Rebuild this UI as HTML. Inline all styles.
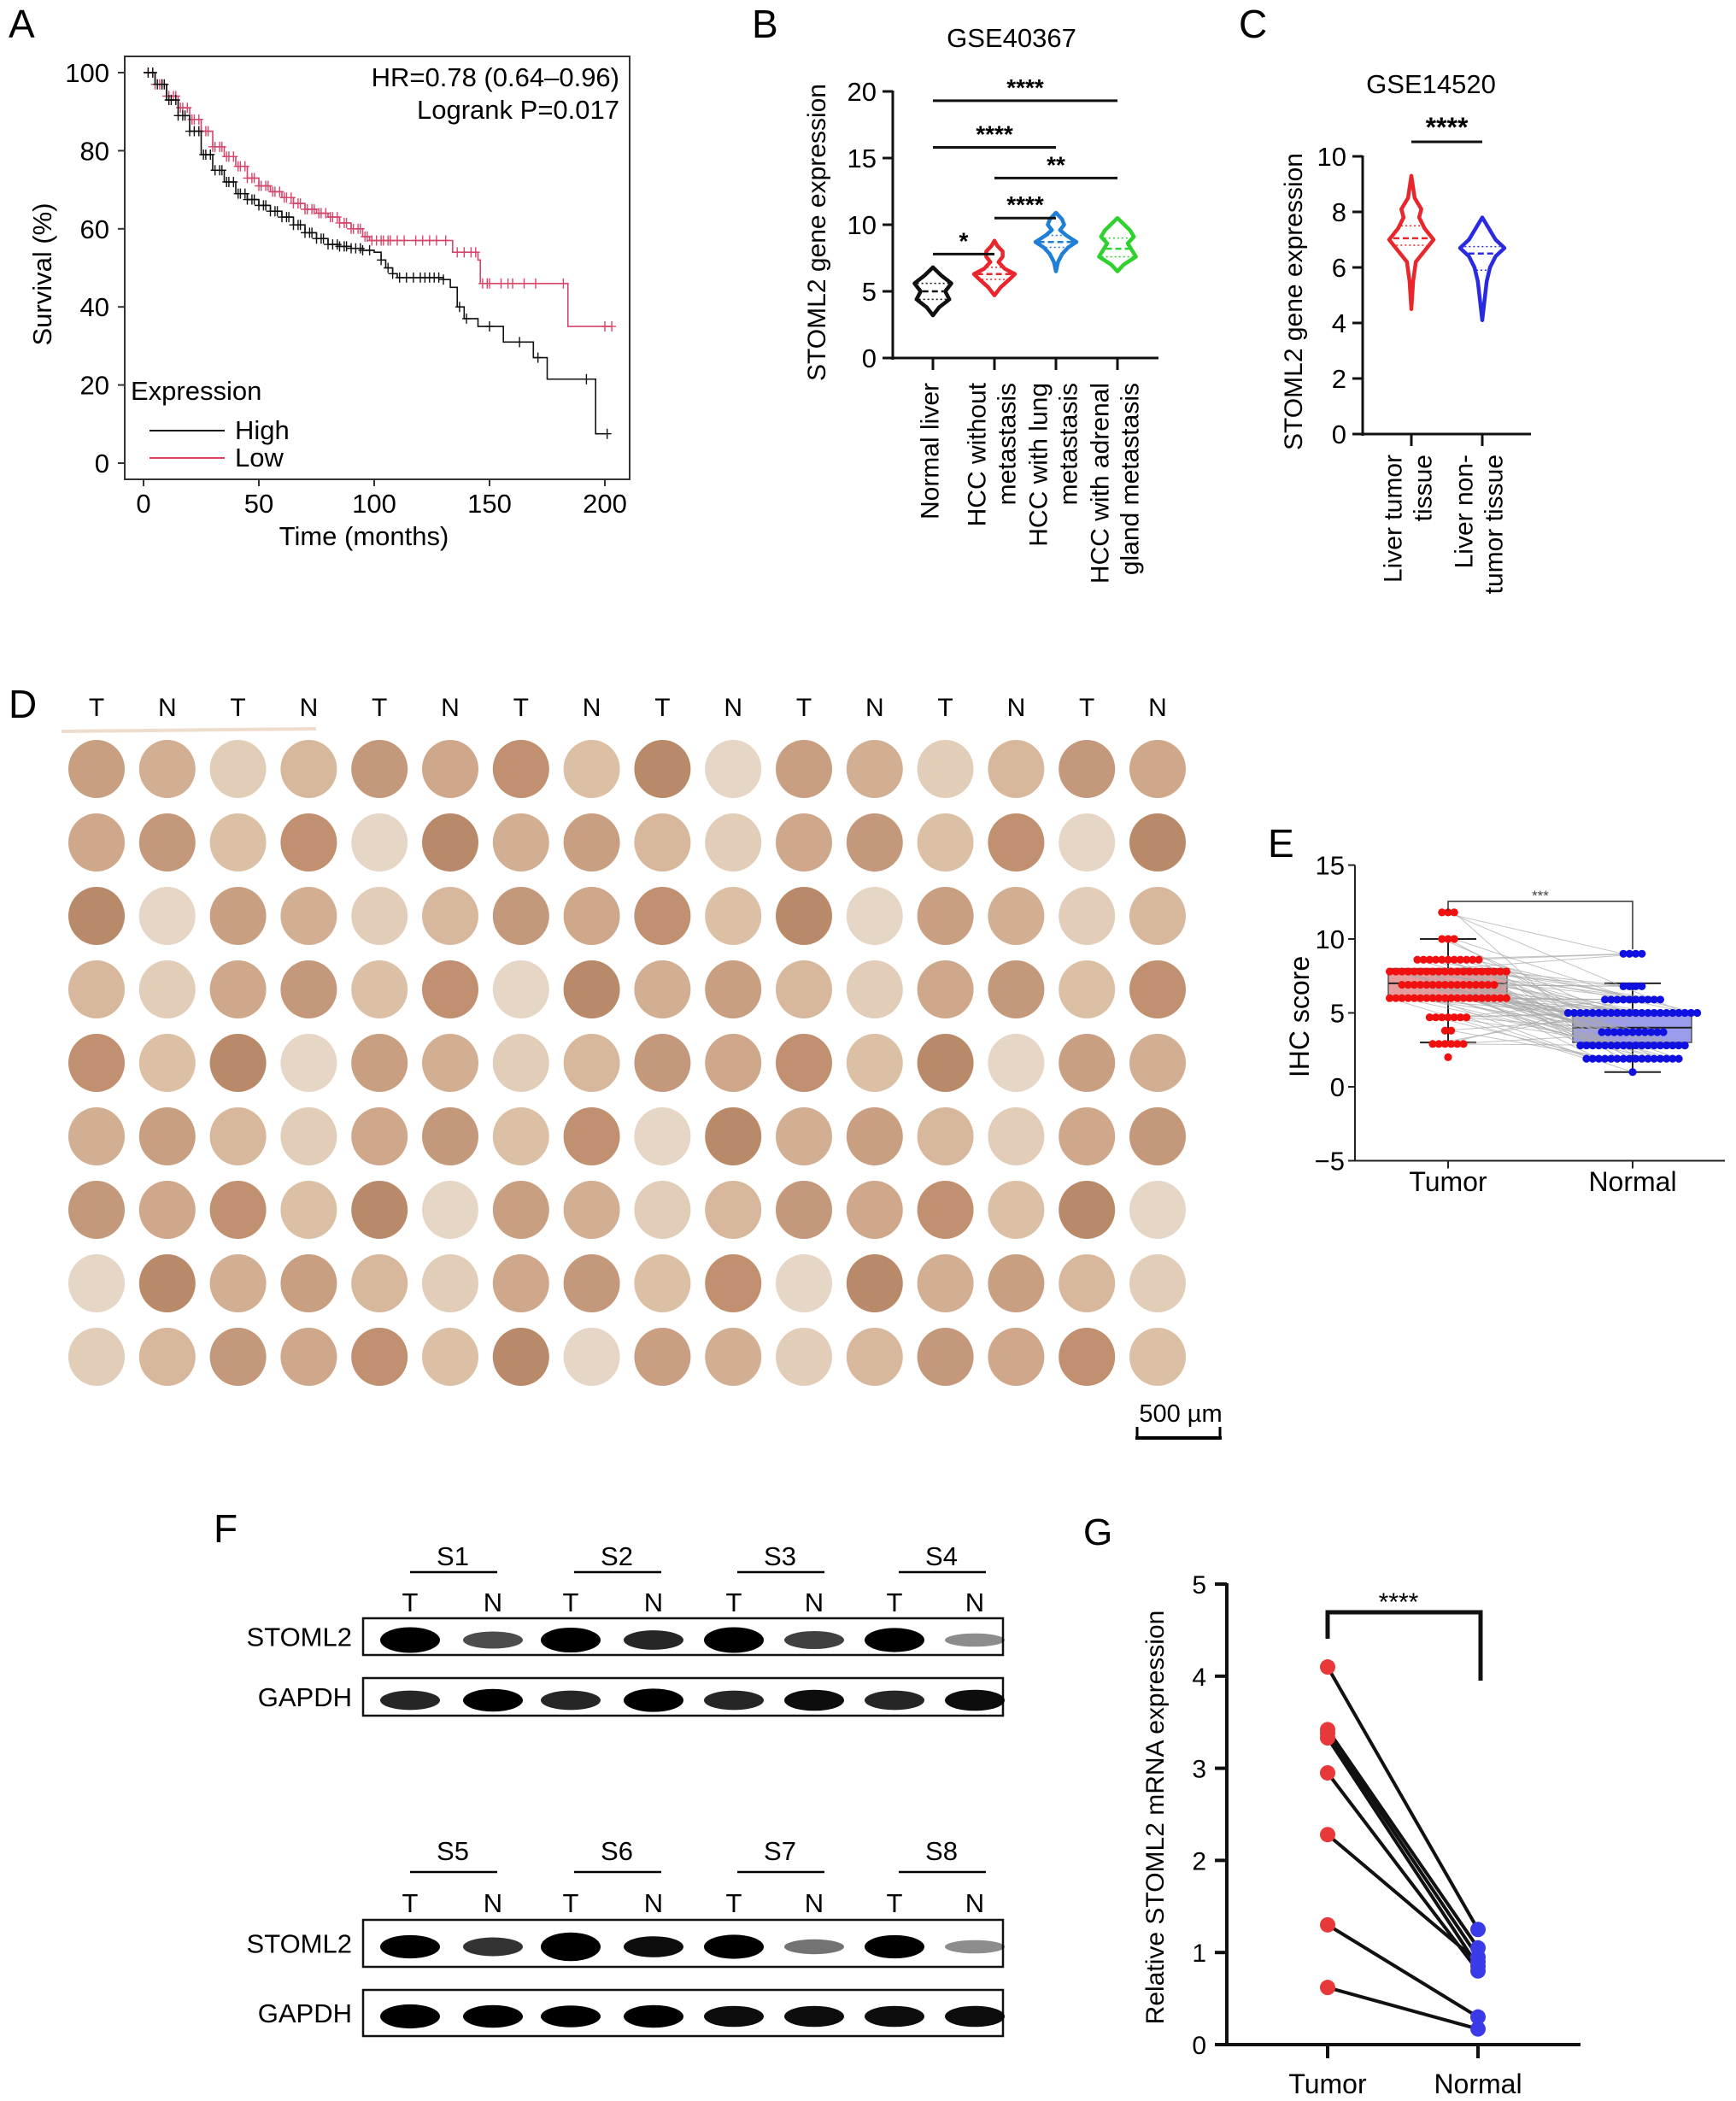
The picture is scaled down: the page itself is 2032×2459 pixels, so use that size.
<!DOCTYPE html>
<html><head><meta charset="utf-8">
<style>
html,body{margin:0;padding:0;background:#fff;}
svg{display:block;font-family:"Liberation Sans Narrow","Liberation Sans",sans-serif;}
.s{font-family:"Liberation Sans",sans-serif;}
</style></head>
<body>
<svg id="fig" xmlns="http://www.w3.org/2000/svg" width="2032" height="2459" viewBox="0 0 2032 2459">
<rect width="2032" height="2459" fill="#fff"/>
<g id="pA"></g>
<g id="pB"></g>
<g id="pC"></g>
<g id="pD"></g>
<g id="pE"></g>
<g id="pF"></g>
<g id="pG"></g>
</svg>
<script>
// ---------- Data ----------
const kmXTicks=[0,50,100,150,200];
const kmYTicks=[0,20,40,60,80,100];
const highT=[0,5,10,15,20,25,30,35,40,45,50,55,60,65,70,75,80,85,90,95,100,103,105,108,110,130,133,136,139,145,156,169,175,196,201];
const highS=[100,97,93,89,85,79,75,72,69,67.5,66,64.5,63,61,59,57.5,56,55.5,55,54.5,54,52,50,48.5,47.5,47,45,40,37,35,31,27,21.5,7.5,7.5];
const lowT=[0,5,10,15,20,25,30,35,40,45,50,55,60,65,70,75,80,85,90,95,98,132,134,145,146,183,184,203];
const lowS=[100,97,94,91,88,85,81,78.5,76,73,71,69.5,68,66.5,65,64,63,61.5,60,58,57,57,54,52,46,46,35,35];
const highCens=[2,4,6,8,9,11,12,14,15,17,18,20,22,24,26,27,29,31,33,34,36,37,39,41,42,44,45,47,48,50,52,53,55,57,58,60,62,63,65,67,68,70,72,73,75,77,78,80,82,84,85,87,88,90,92,94,95,98,103,106,108,111,114,117,120,122,124,126,128,130,137,140,150,163,171,192,201];
const lowCens=[2,4,5,7,8,10,11,13,14,16,17,19,21,22,24,25,27,28,30,31,33,34,36,37,39,41,42,44,45,47,48,50,51,53,54,56,57,59,61,62,64,65,67,68,70,71,73,74,76,77,79,81,82,84,85,87,88,90,91,93,94,96,97,99,101,103,104,106,107,110,113,118,121,124,127,131,136,139,142,144,147,149,150,155,158,160,165,170,182,200,203];

const bCats=[["Normal liver"],["HCC without","metastasis"],["HCC with lung","metastasis"],["HCC with adrenal","gland metastasis"]];
const bTicks=[0,5,10,15,20];
const bColors=["#111","#e8262c","#1f7fd6","#2ed12e"];
const bProfiles=[
 [[3.2,0],[3.8,0.3],[4.4,0.8],[5.0,0.6],[5.6,0.9],[6.2,0.4],[6.8,0]],
 [[4.7,0],[5.3,0.3],[6.0,0.8],[6.3,1],[6.7,0.5],[7.2,0.2],[7.6,0.4],[8.0,0.4],[8.4,0.15],[8.8,0]],
 [[6.5,0],[7.2,0.1],[7.8,0.3],[8.3,0.6],[8.7,1],[9.2,0.5],[9.6,0.2],[10.0,0.4],[10.4,0.3],[10.9,0]],
 [[6.5,0],[7.0,0.3],[7.6,0.9],[8.1,0.7],[8.6,0.5],[9.1,0.8],[9.6,0.6],[10.2,0.2],[10.5,0]]];
const bMed=[5.0,6.3,8.7,8.2];
const bQ1=[4.4,5.9,8.3,7.6];
const bQ3=[5.6,6.8,9.2,9.0];
const bSig=[[0,3,"****",19.3],[0,2,"****",15.8],[1,3,"**",13.5],[1,2,"****",10.5],[0,1,"*",7.8]];

const cCats=[["Liver tumor","tissue"],["Liver non-","tumor tissue"]];
const cTicks=[0,2,4,6,8,10];
const cColors=["#e8262c","#2a2ae0"];
const cProfiles=[
 [[4.5,0],[5.5,0.08],[6.2,0.2],[6.6,0.6],[7.0,1],[7.4,0.6],[7.8,0.35],[8.1,0.45],[8.5,0.15],[9.3,0]],
 [[4.1,0],[4.8,0.1],[5.5,0.2],[6.0,0.35],[6.4,0.6],[6.7,1],[7.0,0.6],[7.4,0.3],[7.8,0]]];
const cMed=[7.05,6.5];
const cQ1=[6.8,5.9];
const cQ3=[7.5,6.75];

const eTicks=[-5,0,5,10,15];
const eTumorLevels=[11.8,10,8.6,7.8,6.9,6,4.7,3.8,2.9,2];
const eTumorCounts=[3,3,11,20,16,20,7,2,6,1];
const eNormLevels=[9,6.8,5.9,5,3.7,2.8,1.9,1];
const eNormCounts=[4,4,10,22,11,18,16,1];
const eTumorBox=[3,6,7,8,10];
const eNormBox=[1,3,4,5,7];

const gTicks=[0,1,2,3,4,5];
const gTumor=[4.1,3.42,3.38,3.33,2.95,2.28,1.3,0.62];
const gNormal=[1.25,1.05,0.95,0.85,0.8,0.9,0.3,0.17];

const dCols=["T","N","T","N","T","N","T","N","T","N","T","N","T","N","T","N"];
const dRows=9;
const dTones=["#c99f82","#d8b89c","#c4987a","#dcc0a6","#b98a6a","#d2ae92","#e2cdb9","#cfa78a","#c09070","#e6d6c6"];

// ---------- helpers ----------
const NS="http://www.w3.org/2000/svg";
function el(parent,tag,attrs,text){const e=document.createElementNS(NS,tag);for(const k in attrs)e.setAttribute(k,attrs[k]);if(text!==undefined)e.textContent=text;parent.appendChild(e);return e;}
const pA=document.getElementById('pA'),pB=document.getElementById('pB'),pC=document.getElementById('pC'),pD=document.getElementById('pD'),pE=document.getElementById('pE'),pF=document.getElementById('pF'),pG=document.getElementById('pG');
function label(p,x,y,t,size){const e=el(p,'text',{x:x,y:y,'font-size':size||44,'fill':'#000'},t);return e;}

// ---------- Panel A ----------
(function(){
 const X=t=>168+t*2.7, Y=s=>542-s*4.57;
 label(pA,10,44,"A",46);
 const box=el(pA,'rect',{x:146,y:66,width:591,height:495,fill:'none',stroke:'#333','stroke-width':2});
 
 kmYTicks.forEach(v=>{el(pA,'line',{x1:138,x2:146,y1:Y(v),y2:Y(v),stroke:'#333','stroke-width':2});
  const t=el(pA,'text',{x:128,y:Y(v)+11,'text-anchor':'end','font-size':31},v);});
 kmXTicks.forEach(v=>{el(pA,'line',{x1:X(v),x2:X(v),y1:561,y2:569,stroke:'#333','stroke-width':2});
  const t=el(pA,'text',{x:X(v),y:600,'text-anchor':'middle','font-size':31},v);});
 const xt=el(pA,'text',{x:426,y:638,'text-anchor':'middle','font-size':31},"Time (months)");
 const yt=el(pA,'text',{x:0,y:0,'text-anchor':'middle','font-size':31,class:'s',transform:'translate(60,321) rotate(-90)'},"Survival (%)");
 function stepAt(T,S,t){let s=S[0];for(let i=0;i<T.length;i++){if(T[i]<=t)s=S[i];}return s;}
 function curve(T,S,col,name,cens){
  let d=`M${X(T[0])},${Y(S[0])}`;
  for(let i=1;i<T.length;i++){d+=` H${X(T[i])} V${Y(S[i])}`;}
  const p=el(pA,'path',{d:d,fill:'none',stroke:col,'stroke-width':1.6});
  cens.forEach(t=>{const s=stepAt(T,S,t);const x=X(t),y=Y(s);
   const c=el(pA,'path',{d:`M${x-5},${y}H${x+5}M${x},${y-6}V${y+6}`,stroke:col,'stroke-width':1.4});});
 }
 curve(lowT,lowS,'#d6456a','low-curve',lowCens);
 curve(highT,highS,'#111','high-curve',highCens);
 const h1=el(pA,'text',{x:725,y:101,'text-anchor':'end','font-size':31},"HR=0.78 (0.64\u20130.96)");
 const h2=el(pA,'text',{x:725,y:139,'text-anchor':'end','font-size':31},"Logrank P=0.017");
 const lg=el(pA,'text',{x:153,y:468,'font-size':31},"Expression");
 el(pA,'line',{x1:175,x2:263,y1:504,y2:504,stroke:'#111','stroke-width':2});
 const l1=el(pA,'text',{x:275,y:514,'font-size':31},"High");
 el(pA,'line',{x1:175,x2:263,y1:536,y2:536,stroke:'#e0405e','stroke-width':2});
 const l2=el(pA,'text',{x:275,y:546,'font-size':31},"Low");
})();

// ---------- violin helper ----------
function violin(p,cx,Y,prof,scale,col,med,q1,q3){
 let right=prof.map(([v,w])=>`${cx+w*scale},${Y(v)}`);
 let left=prof.slice().reverse().map(([v,w])=>`${cx-w*scale},${Y(v)}`);
 const path=el(p,'path',{d:'M'+right.join(' L')+' L'+left.join(' L')+'Z',fill:'none',stroke:col,'stroke-width':4.5,'stroke-linejoin':'round'});
 
 function wAt(v){for(let i=1;i<prof.length;i++){if(v<=prof[i][0]){const f=(v-prof[i-1][0])/(prof[i][0]-prof[i-1][0]);return prof[i-1][1]+f*(prof[i][1]-prof[i-1][1]);}}return 0;}
 [[med,'7,4',2.5],[q1,'2,3',1.5],[q3,'2,3',1.5]].forEach(([v,da,sw])=>{const w=wAt(v)*scale*0.85;
  el(p,'line',{x1:cx-w,x2:cx+w,y1:Y(v),y2:Y(v),stroke:col,'stroke-width':sw,'stroke-dasharray':da});});
}

// ---------- Panel B ----------
(function(){
 const Y=v=>419-v*15.6; const xs=[1092,1164,1236,1308];
 label(pB,880,44,"B",46);
 const t=el(pB,'text',{x:1184,y:55,'text-anchor':'middle','font-size':31},"GSE40367");
 el(pB,'line',{x1:1045,x2:1045,y1:Y(20)-1,y2:Y(0)+2,stroke:'#111','stroke-width':3});
 el(pB,'line',{x1:1043,x2:1356,y1:Y(0),y2:Y(0),stroke:'#111','stroke-width':3});
 bTicks.forEach(v=>{el(pB,'line',{x1:1033,x2:1045,y1:Y(v),y2:Y(v),stroke:'#111','stroke-width':3});
  const tl=el(pB,'text',{x:1026,y:Y(v)+11,'text-anchor':'end','font-size':31},v);});
 const yt=el(pB,'text',{x:0,y:0,'text-anchor':'middle','font-size':30,class:'s',transform:'translate(966,272) rotate(-90)'},"STOML2 gene expression");
 bCats.forEach((c,i)=>{el(pB,'line',{x1:xs[i],x2:xs[i],y1:Y(0),y2:Y(0)+14,stroke:'#111','stroke-width':3});
  c.forEach((ln,j)=>{const off=c.length===1?-3:(j===0?-20:15);
   const tl=el(pB,'text',{x:0,y:0,'text-anchor':'end','dominant-baseline':'central','font-size':30,class:'s',transform:`translate(${xs[i]+off},448) rotate(-90)`},ln);});
  violin(pB,xs[i],Y,bProfiles[i],24,bColors[i],bMed[i],bQ1[i],bQ3[i]);});
 bSig.forEach(([a,b,s,v])=>{el(pB,'line',{x1:xs[a],x2:xs[b],y1:Y(v),y2:Y(v),stroke:'#111','stroke-width':3});
  const st=el(pB,'text',{x:(xs[a]+xs[b])/2,y:Y(v)-6,'text-anchor':'middle','font-size':28,'font-weight':'bold',class:'s'},s);});
})();

// ---------- Panel C ----------
(function(){
 const Y=v=>508-v*32.5; const xs=[1652,1735];
 label(pC,1450,44,"C",46);
 const t=el(pC,'text',{x:1675,y:109,'text-anchor':'middle','font-size':31},"GSE14520");
 el(pC,'line',{x1:1595,x2:1595,y1:Y(10)-1,y2:Y(0)+2,stroke:'#111','stroke-width':3});
 el(pC,'line',{x1:1593,x2:1792,y1:Y(0),y2:Y(0),stroke:'#111','stroke-width':3});
 cTicks.forEach(v=>{el(pC,'line',{x1:1583,x2:1595,y1:Y(v),y2:Y(v),stroke:'#111','stroke-width':3});
  const tl=el(pC,'text',{x:1576,y:Y(v)+11,'text-anchor':'end','font-size':31},v);});
 const yt=el(pC,'text',{x:0,y:0,'text-anchor':'middle','font-size':30,class:'s',transform:'translate(1524,353) rotate(-90)'},"STOML2 gene expression");
 cCats.forEach((c,i)=>{el(pC,'line',{x1:xs[i],x2:xs[i],y1:Y(0),y2:Y(0)+14,stroke:'#111','stroke-width':3});
  c.forEach((ln,j)=>{const off=j===0?-21:14;
   const tl=el(pC,'text',{x:0,y:0,'text-anchor':'end','dominant-baseline':'central','font-size':30,class:'s',transform:`translate(${xs[i]+off},532) rotate(-90)`},ln);});
  violin(pC,xs[i],Y,cProfiles[i],26,cColors[i],cMed[i],cQ1[i],cQ3[i]);});
 el(pC,'line',{x1:xs[0],x2:xs[1],y1:166,y2:166,stroke:'#111','stroke-width':3});
 const st=el(pC,'text',{x:(xs[0]+xs[1])/2,y:160,'text-anchor':'middle','font-size':32,'font-weight':'bold',class:'s'},"****");
})();

// ---------- Panel D ----------
(function(){
 label(pD,10,840,"D",46);
 el(pD,'line',{x1:72,x2:370,y1:856,y2:853,stroke:'#eedccc','stroke-width':4});
 const cx0=113, dx=82.8, cy0=900, dy=86;
 dCols.forEach((c,i)=>{const t=el(pD,'text',{x:cx0+i*dx,y:838,'text-anchor':'middle','font-size':30},c);});
 for(let r=0;r<dRows;r++){for(let i=0;i<dCols.length;i++){
  const tone=dTones[(r*7+i*3+(i%2)*2)%dTones.length];
  const e=el(pD,'ellipse',{cx:cx0+i*dx,cy:cy0+r*dy,rx:33,ry:34,fill:tone});
  
 }}
 el(pD,'line',{x1:1329,x2:1430,y1:1683,y2:1683,stroke:'#000','stroke-width':4});
 el(pD,'line',{x1:1331,x2:1331,y1:1670,y2:1685,stroke:'#000','stroke-width':3});
 el(pD,'line',{x1:1428,x2:1428,y1:1670,y2:1685,stroke:'#000','stroke-width':3});
 const sb=el(pD,'text',{x:1382,y:1664,'text-anchor':'middle','font-size':29},"500 \u00b5m");
})();

// ---------- Panel E ----------
(function(){
 const Y=v=>1272-v*17.3; const xT=1695,xN=1911;
 label(pE,1484,1003,"E",46);
 el(pE,'line',{x1:1586,x2:1586,y1:Y(15),y2:Y(-5),stroke:'#222','stroke-width':2});
 el(pE,'line',{x1:1586,x2:2019,y1:Y(-5),y2:Y(-5),stroke:'#222','stroke-width':2});
 eTicks.forEach(v=>{el(pE,'line',{x1:1578,x2:1586,y1:Y(v),y2:Y(v),stroke:'#222','stroke-width':2});
  const t=el(pE,'text',{x:1574,y:Y(v)+11,'text-anchor':'end','font-size':31},(v<0?"\u2212"+(-v):v));});
 [xT,xN].forEach((x,i)=>{el(pE,'line',{x1:x,x2:x,y1:Y(-5),y2:Y(-5)+9,stroke:'#222','stroke-width':2});
  const t=el(pE,'text',{x:x,y:1394,'text-anchor':'middle','font-size':32},["Tumor","Normal"][i]);});
 const yt=el(pE,'text',{x:0,y:0,'text-anchor':'middle','font-size':32,class:'s',transform:'translate(1532,1190) rotate(-90)'},"IHC score");
 function expand(L,C){const out=[];L.forEach((v,i)=>{for(let k=0;k<C[i];k++)out.push([v,k,C[i]]);});return out;}
 const tP=expand(eTumorLevels,eTumorCounts), nP=expand(eNormLevels,eNormCounts);
 const sp=7.2;
 const pos=(cx,[v,k,n])=>[cx+(k-(n-1)/2)*sp,Y(v)];
 function box(cx,b,fill){const [lo,q1,m,q3,hi]=b;
  el(pE,'line',{x1:cx,x2:cx,y1:Y(hi),y2:Y(lo),stroke:'#222','stroke-width':2});
  [lo,hi].forEach(v=>el(pE,'line',{x1:cx-33,x2:cx+33,y1:Y(v),y2:Y(v),stroke:'#222','stroke-width':2}));
  const r=el(pE,'rect',{x:cx-70,y:Y(q3),width:139,height:Y(q1)-Y(q3),fill:fill,stroke:'#555','stroke-width':1.5});
  
  el(pE,'line',{x1:cx-70,x2:cx+69,y1:Y(m),y2:Y(m),stroke:'#222','stroke-width':2});}
 box(xT,eTumorBox,'#e89c9c');box(xN,eNormBox,'#9c9cec');
 const n=Math.min(tP.length,nP.length);
 for(let i=0;i<n;i++){const a=pos(xT,tP[i]),b=pos(xN,nP[(i*37)%nP.length]);
  const l=el(pE,'line',{x1:a[0],y1:a[1],x2:b[0],y2:b[1],stroke:'#aaa','stroke-width':1,'stroke-opacity':0.7});}
 tP.forEach(p=>{const [x,y]=pos(xT,p);const c=el(pE,'circle',{cx:x,cy:y,r:4.6,fill:'#f01010'});});
 nP.forEach(p=>{const [x,y]=pos(xN,p);const c=el(pE,'circle',{cx:x,cy:y,r:4.6,fill:'#1010e0'});});
 el(pE,'path',{d:`M${xT},1066 V1055 H${xN} V1111`,fill:'none',stroke:'#333','stroke-width':1.5});
 const st=el(pE,'text',{x:(xT+xN)/2,y:1054,'text-anchor':'middle','font-size':17,fill:'#444'},"***");
})();

// ---------- Panel F ----------
(function(){
 label(pF,250,1805,"F",46);
 const lanes=[480,577,668,765,859,953,1047,1141];
 const sX=[530,722,913,1102];
 function blot(top,sLabels,sY,uY,tnY,sBox,gBox,sInt,gInt){
  sLabels.forEach((s,i)=>{const t=el(pF,'text',{x:sX[i],y:sY,'text-anchor':'middle','font-size':31},s);
   el(pF,'line',{x1:sX[i]-50,x2:sX[i]+52,y1:uY,y2:uY,stroke:'#000','stroke-width':2.5});});
  lanes.forEach((x,i)=>{const t=el(pF,'text',{x:x,y:tnY,'text-anchor':'middle','font-size':31},i%2?"N":"T");});
  [[sBox,sInt,"STOML2"],[gBox,gInt,"GAPDH"]].forEach(([b,ints,nm])=>{
   const r=el(pF,'rect',{x:425,y:b[0],width:749,height:b[1]-b[0],fill:'#fff',stroke:'#111','stroke-width':2.5});
   const cy=(b[0]+b[1])/2+4;
   lanes.forEach((x,i)=>{const a=ints[i];const e=el(pF,'ellipse',{cx:x,cy:cy,rx:35,ry:6+a*9,fill:'#000','fill-opacity':Math.min(1,0.25+a)});});
   const t=el(pF,'text',{x:412,y:(b[0]+b[1])/2+11,'text-anchor':'end','font-size':31},nm);});
 }
 blot(0,["S1","S2","S3","S4"],1832,1840,1886,[1894,1937],[1964,2008],[1,0.45,0.95,0.6,1,0.5,0.9,0.2],[0.6,0.8,0.6,0.85,0.6,0.7,0.6,0.7]);
 blot(0,["S5","S6","S7","S8"],2177,2191,2238,[2247,2302],[2329,2383],[0.85,0.55,1.2,0.7,0.9,0.3,0.85,0.2],[0.9,0.8,0.75,0.8,0.7,0.7,0.7,0.7]);
})();

// ---------- Panel G ----------
(function(){
 const Y=v=>2393-v*107.8; const xT=1554,xN=1730;
 label(pG,1268,1808,"G",44);
 el(pG,'line',{x1:1436,x2:1436,y1:Y(5)-1,y2:Y(0)+2,stroke:'#111','stroke-width':4});
 el(pG,'line',{x1:1434,x2:1850,y1:Y(0),y2:Y(0),stroke:'#111','stroke-width':4});
 gTicks.forEach(v=>{el(pG,'line',{x1:1422,x2:1436,y1:Y(v),y2:Y(v),stroke:'#111','stroke-width':4});
  const t=el(pG,'text',{x:1412,y:Y(v)+11,'text-anchor':'end','font-size':30,class:'s'},v);});
 [xT,xN].forEach((x,i)=>{el(pG,'line',{x1:x,x2:x,y1:Y(0),y2:Y(0)+16,stroke:'#111','stroke-width':4});
  const t=el(pG,'text',{x:x,y:2450,'text-anchor':'middle','font-size':32},["Tumor","Normal"][i]);});
 const yt=el(pG,'text',{x:0,y:0,'text-anchor':'middle','font-size':30,class:'s',transform:'translate(1362,2127) rotate(-90)'},"Relative STOML2 mRNA expression");
 gTumor.forEach((v,i)=>{const l=el(pG,'line',{x1:xT,y1:Y(v),x2:xN,y2:Y(gNormal[i]),stroke:'#111','stroke-width':4});});
 gTumor.forEach(v=>{const c=el(pG,'circle',{cx:xT,cy:Y(v),r:9,fill:'#e8383a'});});
 gNormal.forEach(v=>{const c=el(pG,'circle',{cx:xN,cy:Y(v),r:9,fill:'#3a3ae8'});});
 el(pG,'path',{d:`M${xT},1918 V1887 H${xN+3} V1967`,fill:'none',stroke:'#111','stroke-width':5});
 const st=el(pG,'text',{x:1637,y:1885,'text-anchor':'middle','font-size':30,class:'s'},"****");
})();
</script>
</body></html>
